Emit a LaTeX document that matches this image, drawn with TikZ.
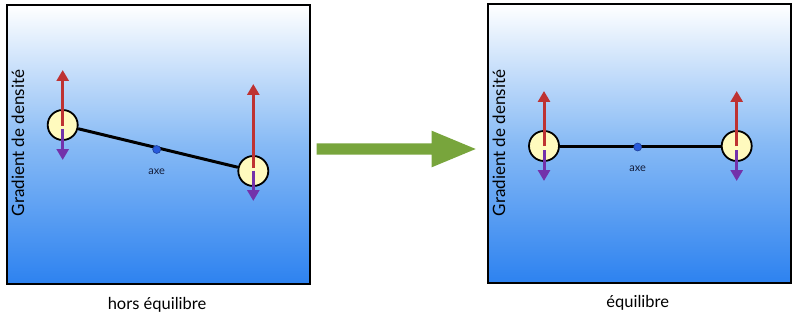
\documentclass[tikz,border=0pt]{standalone}
\usepackage{fontspec}
\setmainfont{Lato}
\usetikzlibrary{arrows.meta}
\definecolor{bluebot}{RGB}{45,130,240}
\definecolor{bluemid}{RGB}{135,186,245}
\definecolor{ballfill}{RGB}{255,250,190}
\definecolor{upred}{RGB}{190,50,50}
\definecolor{downpurple}{RGB}{115,50,170}
\definecolor{axeblue}{RGB}{40,90,220}
\definecolor{bigarrow}{RGB}{120,165,60}
\definecolor{axetext}{RGB}{20,30,60}
\tikzset{
  panel/.style={draw=black, line width=2pt},
  ball/.style={circle, draw=black, line width=1.8pt, fill=ballfill, minimum size=30pt, inner sep=0pt},
  pivot/.style={circle, fill=axeblue, draw=axeblue!70!black, line width=0.6pt, minimum size=8pt, inner sep=0pt},
  rod/.style={line width=3pt, black},
  upforce/.style={line width=3pt, upred, -{Triangle[width=12pt,length=11pt]}},
  downforce/.style={line width=3pt, downpurple, -{Triangle[width=12pt,length=11pt]}},
  axelabel/.style={font=\fontsize{11}{12}\selectfont, text=axetext},
  ylabel/.style={rotate=90, font=\fontsize{17}{19}\selectfont},
  caption/.style={font=\fontsize{16.5}{18}\selectfont}
}
\begin{document}
\begin{tikzpicture}[x=1pt,y=-1pt]
\useasboundingbox (0,0) rectangle (800,318);
% panels
\shade[top color=white, bottom color=bluebot, middle color=bluemid] (7,5) rectangle (310,284);
\draw[panel] (7,5) rectangle (310,284);
\shade[top color=white, bottom color=bluebot, middle color=bluemid] (488,4) rectangle (791,283);
\draw[panel] (488,4) rectangle (791,283);
% left panel
\node[ylabel] (gl) at (18,143) {Gradient de densité};
\node[ball] (l1) at (62.7,125) {};
\node[ball] (l2) at (253.3,171) {};
\draw[rod] (l1) -- (l2);
\node[pivot] (lp) at (156.7,149.5) {};
\node[axelabel] (la) at (156.7,172) {axe};
\coordinate (l1u) at (62.7,126);
\coordinate (l1ut) at (62.7,70);
\coordinate (l1d) at (62.7,129);
\coordinate (l1dt) at (62.7,160);
\coordinate (l2u) at (253.3,168);
\coordinate (l2ut) at (253.3,84);
\coordinate (l2d) at (253.3,170.5);
\coordinate (l2dt) at (253.3,201);
\draw[upforce] (l1u) -- (l1ut);
\draw[downforce] (l1d) -- (l1dt);
\draw[upforce] (l2u) -- (l2ut);
\draw[downforce] (l2d) -- (l2dt);
\node[caption] (lc) at (157,305) {hors équilibre};
% right panel
\node[ylabel] (gr) at (499,143) {Gradient de densité};
\node[ball] (r1) at (544,146) {};
\node[ball] (r2) at (736.7,146) {};
\draw[rod] (r1) -- (r2);
\node[pivot] (rp) at (637.7,147) {};
\node[axelabel] (ra) at (637.7,169) {axe};
\coordinate (r1u) at (544,146);
\coordinate (r1ut) at (544,91);
\coordinate (r1d) at (544,150);
\coordinate (r1dt) at (544,181);
\coordinate (r2u) at (736.7,146);
\coordinate (r2ut) at (736.7,91);
\coordinate (r2d) at (736.7,150);
\coordinate (r2dt) at (736.7,181);
\draw[upforce] (r1u) -- (r1ut);
\draw[downforce] (r1d) -- (r1dt);
\draw[upforce] (r2u) -- (r2ut);
\draw[downforce] (r2d) -- (r2dt);
\node[caption] (rc) at (637.7,303) {équilibre};
% big arrow
\fill[bigarrow] (316.7,143.3) -- (431.7,143.3) -- (431.7,130.7) -- (475.7,149) -- (431.7,167.3) -- (431.7,154.7) -- (316.7,154.7) -- cycle;
\end{tikzpicture}
\end{document}
